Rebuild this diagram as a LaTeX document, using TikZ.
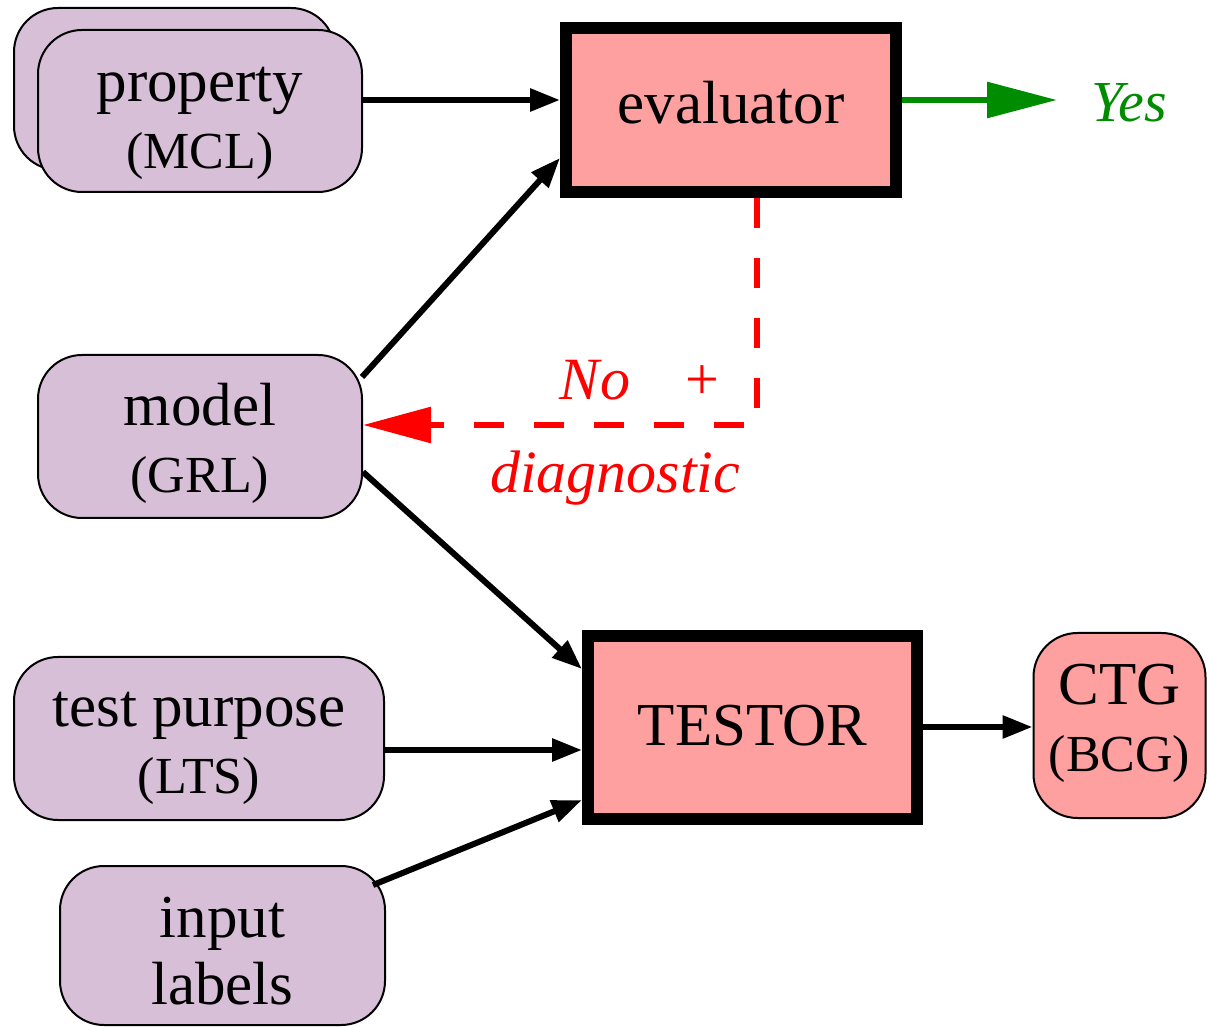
\documentclass[tikz,border=0pt]{standalone}
\usepackage{fontspec}
\setmainfont{Liberation Serif}
\usetikzlibrary{arrows.meta}
\definecolor{lilac}{RGB}{216,191,216}
\definecolor{salmonpink}{RGB}{255,160,160}
\definecolor{okgreen}{RGB}{0,140,0}
\definecolor{nored}{RGB}{255,0,0}
\newcommand{\mainsz}{\fontsize{30.5}{33.5}\selectfont}
\newcommand{\subsz}{\fontsize{26}{33.5}\selectfont}
\tikzset{
  boxtext/.style={align=center, inner sep=0pt, font=\mainsz},
  inbox/.style={draw=black, line width=1pt, fill=lilac, rounded corners=22pt, inner sep=0pt},
  outbox/.style={draw=black, line width=1pt, fill=salmonpink, rounded corners=22pt, inner sep=0pt},
  toolbox/.style={draw=black, line width=6pt, fill=salmonpink, inner sep=0pt},
  edge/.style={draw=black, line width=3pt, -{Triangle[length=15pt,width=11pt]}},
  yesedge/.style={draw=okgreen, line width=3pt, -{Triangle[length=35pt,width=17.5pt]}},
  noedge/.style={draw=nored, line width=3pt, dash pattern=on 15pt off 15pt,
    -{Triangle[length=34pt,width=17.5pt]}},
  verdict/.style={font=\fontsize{30}{33}\selectfont\itshape, inner sep=0pt, anchor=base}
}
\begin{document}
\begin{tikzpicture}[x=0.5pt,y=-0.5pt]
  \useasboundingbox (0,0) rectangle (1207,1027);

  % input nodes (stacked property boxes)
  \node[inbox, minimum width=160.5pt, minimum height=81pt] (propback) at (174.5,89) {};
  \node[inbox, minimum width=162pt, minimum height=81pt,
    label={[boxtext, yshift=-6.25pt]center:property\\{\subsz (MCL)}}] (prop) at (200,111) {};
  \node[inbox, minimum width=162pt, minimum height=81.5pt,
    label={[boxtext, yshift=-3.25pt]center:model\\{\subsz (GRL)}}] (model) at (200,436.5) {};
  \node[inbox, minimum width=185pt, minimum height=81.5pt,
    label={[boxtext, yshift=-4.75pt]center:test purpose\\{\subsz (LTS)}}] (purpose) at (199,738.5) {};
  \node[inbox, minimum width=162.5pt, minimum height=79.5pt,
    label={[boxtext, yshift=-3pt]center:input\\labels}] (labels) at (222.5,945.5) {};

  % tools
  \node[toolbox, minimum width=165pt, minimum height=82pt,
    label={[boxtext, yshift=3.5pt]center:evaluator}] (eval) at (731,110) {};
  \node[toolbox, minimum width=164.5pt, minimum height=91.5pt,
    label={[boxtext, yshift=1pt]center:TESTOR}] (testor) at (752.5,727.5) {};

  % result
  \node[outbox, minimum width=86pt, minimum height=92.5pt,
    label={[boxtext, yshift=1pt]center:CTG\\{\subsz (BCG)}}] (ctg) at (1119.5,725.5) {};

  % verdict texts
  \node[verdict, text=okgreen, font=\fontsize{29}{32}\selectfont\itshape] (yes) at (1129,122) {Yes};
  \node[verdict, text=nored] (no) at (595,400) {No};
  \node[verdict, text=nored, font=\fontsize{30}{33}\selectfont] (plus) at (702,400) {+};
  \node[verdict, text=nored] (diag) at (615,493) {diagnostic};
  \coordinate (yestip) at (1057,100);

  % connectors
  \draw[edge] (prop.east |- 0,100) -- (eval.west |- 0,100);
  \draw[edge] ([xshift=-0.5pt]model.east |- 0,377) -- (eval.west |- 0,158);
  \draw[edge] (model.east |- 0,472) -- (testor.west |- 0,669);
  \draw[edge] (purpose.east |- 0,750) -- (testor.west |- 0,750);
  \draw[edge] ([xshift=-6.5pt]labels.east |- 0,885) -- (testor.west |- 0,800);
  \draw[edge] (testor.east |- 0,727) -- (ctg.west |- 0,727);
  \draw[yesedge] (eval.east |- 0,100) -- (yestip);
  \draw[noedge] (eval.south -| 757,0) |- (model.east |- 0,425);
\end{tikzpicture}
\end{document}
